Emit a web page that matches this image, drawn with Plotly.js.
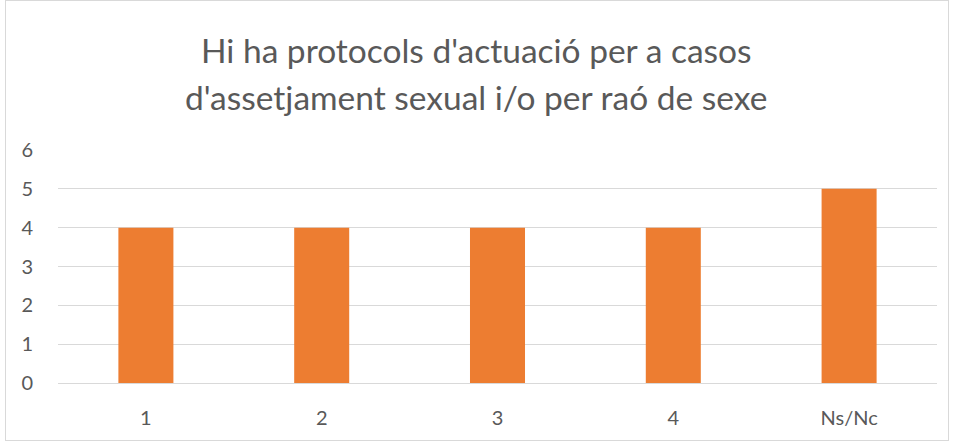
<!DOCTYPE html>
<html>
<head>
<meta charset="utf-8">
<script src="https://cdn.plot.ly/plotly-3.0.1.min.js"></script>
<style>
  body { margin: 0; }
  #wrap { position: relative; width: 953px; height: 443px; }
  #chart { width: 953px; height: 443px; }
  #frame { position: absolute; left: 5px; top: 0px; width: 942px; height: 439px;
           border: 1px solid #d9d9d9; pointer-events: none; }
</style>
</head>
<body>
<div id="wrap">
  <div id="chart"></div>
  <div id="frame"></div>
</div>
<script>
const categories = ['1', '2', '3', '4', 'Ns/Nc'];
const values = [4, 4, 4, 4, 5];
const titleLines = ["Hi ha protocols d'actuació per a casos", "d'assetjament sexual i/o per raó de sexe"];

const fontFamily = 'Lato, sans-serif';
const textColor = '#595959';

const trace = {
  x: categories,
  y: values,
  type: 'bar',
  marker: { color: '#ed7d31' },
  hoverinfo: 'x+y'
};

const layout = {
  width: 953,
  height: 443,
  margin: { l: 58, r: 16, t: 150, b: 60 },
  paper_bgcolor: '#ffffff',
  plot_bgcolor: '#ffffff',
  font: { family: fontFamily, color: textColor, size: 20 },
  bargap: 0.687,
  showlegend: false,
  xaxis: {
    type: 'category',
    showgrid: false,
    showline: true,
    linecolor: '#d9d9d9',
    linewidth: 1,
    ticks: 'outside',
    ticklen: 17,
    tickcolor: 'rgba(0,0,0,0)',
    tickfont: { size: 20, color: textColor }
  },
  yaxis: {
    range: [0, 6],
    dtick: 1,
    showgrid: true,
    gridcolor: '#d9d9d9',
    gridwidth: 1,
    zeroline: false,
    showline: false,
    ticks: 'outside',
    ticklen: 20,
    tickcolor: 'rgba(0,0,0,0)',
    tickfont: { size: 20, color: textColor }
  },
  annotations: [
    { text: titleLines[0], xref: 'paper', yref: 'paper', x: 0.476, y: 1.4286,
      xanchor: 'center', yanchor: 'middle', showarrow: false,
      font: { size: 33.5, color: textColor, family: fontFamily } },
    { text: titleLines[1], xref: 'paper', yref: 'paper', x: 0.476, y: 1.227,
      xanchor: 'center', yanchor: 'middle', showarrow: false,
      font: { size: 33.5, color: textColor, family: fontFamily } }
  ]
};

Plotly.newPlot('chart', [trace], layout, { displayModeBar: false, responsive: false });
</script>
</body>
</html>
